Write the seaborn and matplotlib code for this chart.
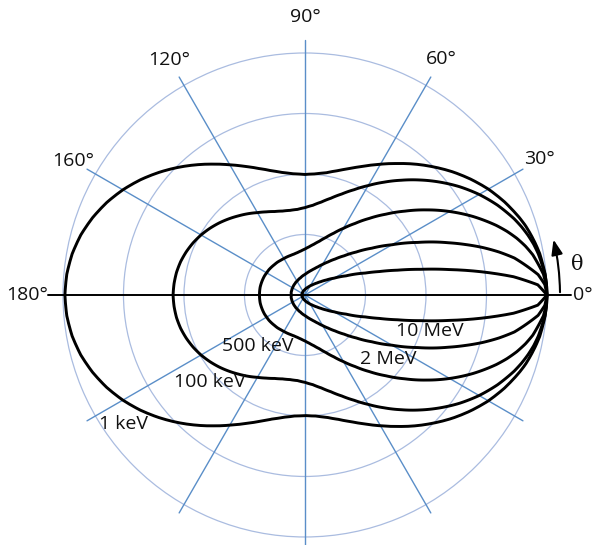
import numpy as np
import pandas as pd
import matplotlib
matplotlib.use("Agg")
import matplotlib.pyplot as plt
import seaborn as sns

# Scattering angle (deg) and relative cross section per photon energy (upper half, curves are symmetric)
ANGLES_DEG = [0, 2.5, 5, 10, 12.5, 15, 17.5, 20, 25, 30, 35, 40, 45, 50, 55, 60, 65, 70, 75, 80, 85, 90,
              95, 100, 105, 110, 115, 120, 125, 130, 135, 140, 145, 150, 155, 160, 165, 170, 175, 180]
ENERGIES = ["1 keV", "100 keV", "500 keV", "2 MeV", "10 MeV"]
R_1KEV = [1.000, 0.999, 0.996, 0.985, 0.976, 0.966, 0.955, 0.941, 0.910, 0.875, 0.835, 0.793, 0.749,
          0.706, 0.663, 0.624, 0.588, 0.557, 0.532, 0.513, 0.502, 0.498, 0.502, 0.513, 0.531, 0.556,
          0.586, 0.621, 0.660, 0.702, 0.745, 0.788, 0.830, 0.869, 0.904, 0.934, 0.959, 0.977, 0.988, 0.992]
R_100KEV = [1.000, 0.999, 0.995, 0.979, 0.968, 0.954, 0.938, 0.920, 0.878, 0.831, 0.780, 0.726, 0.672,
            0.619, 0.569, 0.522, 0.480, 0.444, 0.414, 0.390, 0.372, 0.361, 0.355, 0.355, 0.359, 0.367,
            0.379, 0.393, 0.410, 0.427, 0.445, 0.463, 0.480, 0.496, 0.510, 0.522, 0.532, 0.539, 0.543, 0.545]
R_500KEV = [1.000, 0.997, 0.989, 0.956, 0.933, 0.906, 0.875, 0.841, 0.767, 0.690, 0.613, 0.539, 0.472,
            0.413, 0.361, 0.318, 0.282, 0.253, 0.230, 0.213, 0.200, 0.190, 0.183, 0.178, 0.175, 0.174,
            0.174, 0.174, 0.175, 0.177, 0.178, 0.180, 0.182, 0.183, 0.185, 0.186, 0.187, 0.188, 0.188, 0.188]
R_2MEV = [1.000, 0.992, 0.967, 0.879, 0.821, 0.759, 0.694, 0.631, 0.514, 0.415, 0.337, 0.276, 0.229,
          0.194, 0.167, 0.146, 0.129, 0.116, 0.106, 0.098, 0.091, 0.085, 0.081, 0.077, 0.073, 0.071,
          0.068, 0.066, 0.065, 0.063, 0.062, 0.061, 0.060, 0.059, 0.059, 0.058, 0.058, 0.058, 0.057, 0.057]
R_10MEV = [1.000, 0.963, 0.865, 0.605, 0.490, 0.396, 0.322, 0.265, 0.187, 0.139, 0.108, 0.086, 0.070,
           0.059, 0.050, 0.044, 0.038, 0.034, 0.030, 0.028, 0.025, 0.023, 0.021, 0.020, 0.019, 0.018,
           0.017, 0.016, 0.015, 0.015, 0.014, 0.014, 0.014, 0.013, 0.013, 0.013, 0.013, 0.013, 0.012, 0.012]

# grid and labels
RING_VALUES = [0.25, 0.5, 0.75, 1.0]
SPOKE_ANGLES = [30, 60, 90, 120, 150, 210, 240, 270, 300, 330]
ANGLE_LABELS = ["0°", "30°", "60°", "90°", "120°", "160°", "180°"]
ANGLE_LABEL_POS = [(0, 1.15), (30, 1.12), (60, 1.125), (90, 1.15), (120, 1.12), (150, 1.105), (180, 1.15)]
ENERGY_LABEL_POS = {"10 MeV": (-16.1, 0.537), "2 MeV": (-37.6, 0.433), "500 keV": (-132.7, 0.286),
                    "100 keV": (-137.5, 0.532), "1 keV": (-144.7, 0.921)}

SPOKE_COLOR = "#5a8ec8"
RING_COLOR = "#aabce0"
TEXT_COLOR = "#111111"


def build_frame():
    ang = np.array(ANGLES_DEG, dtype=float)
    full_ang = np.concatenate([ang, 360 - ang[::-1][1:]])
    rows = []
    for name, vals in zip(ENERGIES, [R_1KEV, R_100KEV, R_500KEV, R_2MEV, R_10MEV]):
        v = np.array(vals)
        full_r = np.concatenate([v, v[::-1][1:]])
        for a, r in zip(full_ang, full_r):
            rows.append({"theta": np.deg2rad(a), "r": r, "energy": name})
    return pd.DataFrame(rows)


def main():
    sns.set_theme(style="white")
    plt.rcParams["font.family"] = ["Open Sans", "DejaVu Sans"]

    fig = plt.figure(figsize=(5.97, 5.45), dpi=100)
    ax = fig.add_axes([0.0447, -0.0519, 0.9323, 1.0213], projection="polar")

    # rings
    ax.set_yticks(RING_VALUES)
    ax.set_yticklabels([])
    ax.set_xticks([])
    ax.yaxis.grid(True, color=RING_COLOR, lw=0.9)
    ax.xaxis.grid(False)
    ax.spines["polar"].set_visible(False)
    ax.set_facecolor("white")

    # spokes
    for a in SPOKE_ANGLES:
        rend = 1.055 if a == 90 else 1.04
        ax.plot([np.deg2rad(a)] * 2, [0, rend], color=SPOKE_COLOR, lw=1.0, zorder=1)
    # horizontal axis
    ax.plot([0, 0], [0, 1.1], color="black", lw=1.4, zorder=2)
    ax.plot([np.pi, np.pi], [0, 1.062], color="black", lw=1.4, zorder=2)

    n_before = len(ax.lines)
    df = build_frame()
    sns.lineplot(data=df, x="theta", y="r", hue="energy", palette=["black"] * len(ENERGIES),
                 sort=False, estimator=None, legend=False, lw=2.1, ax=ax, zorder=3)
    # let the polar transform follow the curve between the tabulated angles
    for line in ax.lines[n_before:]:
        line.get_path()._interpolation_steps = 8
    ax.set_xlabel("")
    ax.set_ylabel("")
    ax.set_ylim(0, 1.15)

    for lab, (a, r) in zip(ANGLE_LABELS, ANGLE_LABEL_POS):
        ax.text(np.deg2rad(a), r, lab, ha="center", va="center", fontsize=14, color=TEXT_COLOR)
    for lab, (a, r) in ENERGY_LABEL_POS.items():
        ax.text(np.deg2rad(a), r, lab, ha="center", va="center", fontsize=14, color=TEXT_COLOR, zorder=4)

    # theta arrow
    ax.annotate("", xy=(np.deg2rad(13.2), 1.052), xytext=(0, 1.054),
                arrowprops=dict(arrowstyle="-|>,head_length=0.75,head_width=0.28",
                                connectionstyle="arc3,rad=0.06", color="black", lw=1.5))
    ax.text(np.deg2rad(6.3), 1.13, "θ", ha="center", va="center", fontsize=15,
            family=["DejaVu Serif"], color=TEXT_COLOR)

    fig.savefig("out.png", dpi=100)


if __name__ == "__main__":
    main()
